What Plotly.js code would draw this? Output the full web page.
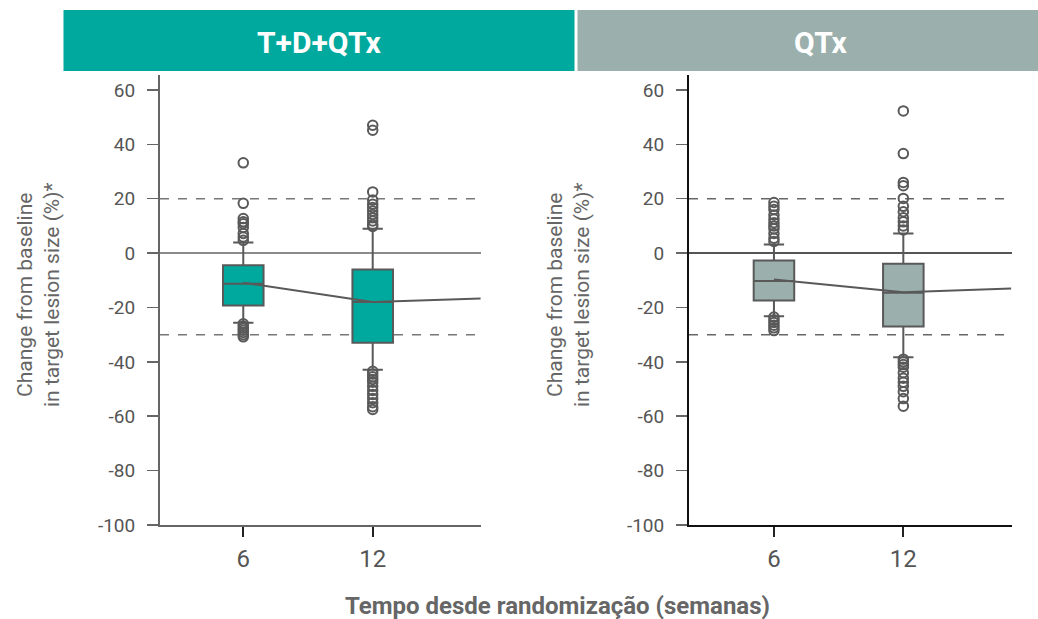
<!DOCTYPE html>
<html>
<head>
<meta charset="utf-8">
<script src="https://cdn.plot.ly/plotly-3.0.1.min.js"></script>
<style>html,body{margin:0;padding:0;background:#fff}#chart{width:1038px;height:619px}</style>
</head>
<body>
<div id="chart"></div>
<script>
// ---------- data ----------
const weeks = [6, 12];
const panelNames = ["T+D+QTx", "QTx"];

// T+D+QTx box statistics (week 6, week 12)
const tdq_q1 = [-19.3, -33.0];
const tdq_median = [-11.3, -18.0];
const tdq_q3 = [-4.5, -6.0];
const tdq_lowerfence = [-25.6, -42.9];
const tdq_upperfence = [3.9, 9.0];
const tdq_out_w6 = [33.2, 18.3, 12.7, 11.5, 10.8, 9.4, 7.2, 5.9, 4.7, -26, -26.8, -27.6, -28.4, -29.2, -30.0, -30.8];
const tdq_out_w12 = [47.0, 45.2, 22.5, 19.5, 18.0, 16.8, 15.5, 14.2, 13.0, 11.8, 10.5, 9.8, -43.5, -44.5, -45.5, -46.5, -47.5, -49, -50.5, -52, -53.5, -55, -56.5, -57.5];
const tdq_trend_x = [6, 12, 17];
const tdq_trend_y = [-10.9, -18.0, -16.7];

// QTx box statistics (week 6, week 12)
const qtx_q1 = [-17.4, -27.0];
const qtx_median = [-10.3, -14.6];
const qtx_q3 = [-2.7, -3.9];
const qtx_lowerfence = [-23.2, -38.3];
const qtx_upperfence = [3.2, 7.2];
const qtx_out_w6 = [18.6, 17.2, 16.0, 14.0, 12.5, 11.2, 10.0, 9.0, 7.2, 5.5, 4.3, -23.5, -24.5, -25.5, -26.5, -27.5, -28.5];
const qtx_out_w12 = [52.3, 36.6, 26.0, 24.8, 20.1, 17.2, 15.2, 13.0, 11.5, 10.0, 8.5, -39.0, -40.0, -41.0, -42.0, -44.0, -46.0, -47.5, -49.0, -51.0, -53.5, -56.3];
const qtx_trend_x = [6, 12, 17];
const qtx_trend_y = [-9.7, -14.4, -13.0];

// reference lines
const refZero = 0;
const refUpper = 20;
const refLower = -30;

const yTicks = [60, 40, 20, 0, -20, -40, -60, -80, -100];
const yTickText = ["60", "40", "20", "0", "-20", "-40", "-60", "-80", "-100"];
const xTickText = ["6", "12"];
const yTitle = "Change from baseline<br>in target lesion size (%)*";
const xTitle = "Tempo desde randomização (semanas)";

// ---------- styling ----------
const TEAL = "#00A99D";
const GREY = "#9BAFAC";
const LINE = "#595959";
const FONT = "Roboto, 'Liberation Sans', sans-serif";

function boxTrace(q1, med, q3, lf, uf, color, xa, ya) {
  return {
    type: "box", x: weeks, q1: q1, median: med, q3: q3,
    lowerfence: lf, upperfence: uf,
    width: 1.88, fillcolor: color, whiskerwidth: 0.5,
    line: {color: LINE, width: 2}, boxpoints: false,
    xaxis: xa, yaxis: ya, hoverinfo: "skip", showlegend: false
  };
}
function outTrace(ow6, ow12, xa, ya) {
  const xs = ow6.map(() => weeks[0]).concat(ow12.map(() => weeks[1]));
  return {
    type: "scatter", mode: "markers", x: xs, y: ow6.concat(ow12),
    marker: {symbol: "circle-open", size: 9.5, color: LINE, line: {width: 2, color: LINE}},
    xaxis: xa, yaxis: ya, showlegend: false, hoverinfo: "skip", cliponaxis: false
  };
}
function trendTrace(x, y, xa, ya) {
  return {
    type: "scatter", mode: "lines", x: x, y: y,
    line: {color: LINE, width: 2},
    xaxis: xa, yaxis: ya, showlegend: false, hoverinfo: "skip"
  };
}

const data = [
  boxTrace(tdq_q1, tdq_median, tdq_q3, tdq_lowerfence, tdq_upperfence, TEAL, "x", "y"),
  trendTrace(tdq_trend_x, tdq_trend_y, "x", "y"),
  outTrace(tdq_out_w6, tdq_out_w12, "x", "y"),
  boxTrace(qtx_q1, qtx_median, qtx_q3, qtx_lowerfence, qtx_upperfence, GREY, "x2", "y2"),
  trendTrace(qtx_trend_x, qtx_trend_y, "x2", "y2"),
  outTrace(qtx_out_w6, qtx_out_w12, "x2", "y2")
];

const W = 1038, H = 619;
const yDomain = [(H - 525) / H, (H - 75) / H];
const yRange = [-100, 65.5];

function xAxis(domain, range, lineColor) {
  return {
    domain: domain, range: range, tickvals: weeks, ticktext: xTickText,
    ticks: "outside", ticklen: 10, tickwidth: 2, tickcolor: "#222",
    showline: true, linecolor: lineColor, linewidth: 2,
    showgrid: false, zeroline: false, ticklabelstandoff: 1,
    tickfont: {family: FONT, size: 24, color: "#555"}, fixedrange: true
  };
}
function yAxis(anchor, lineColor) {
  return {
    domain: yDomain, range: yRange, anchor: anchor, tickvals: yTicks, ticktext: yTickText,
    ticks: "outside", ticklen: 11, tickwidth: 1.5, tickcolor: "#666",
    showline: true, linecolor: lineColor, linewidth: 2,
    showgrid: false, zeroline: false, ticklabelstandoff: 8,
    tickfont: {family: FONT, size: 19, color: "#555"}, fixedrange: true
  };
}

function hline(xref, yref, y, color, width, dash) {
  return {type: "line", xref: xref + " domain", yref: yref, x0: 0, x1: 1, y0: y, y1: y,
          line: {color: color, width: width, dash: dash}, layer: "below"};
}
function ann(text, x, y, size, color, angle) {
  return {text: text, xref: "paper", yref: "paper", x: x / W, y: 1 - y / H,
          xanchor: "center", yanchor: "middle", textangle: angle || 0,
          showarrow: false, font: {family: FONT, size: size, color: color}};
}

const layout = {
  width: W, height: H,
  margin: {l: 0, r: 0, t: 0, b: 0},
  paper_bgcolor: "#fff", plot_bgcolor: "#fff",
  font: {family: FONT, color: "#555"},
  showlegend: false,
  xaxis: xAxis([160 / W, 481 / W], [2.14, 17.02], "#666"),
  yaxis: yAxis("x", "#666"),
  xaxis2: Object.assign(xAxis([689 / W, 1012 / W], [2.06, 17.04], "#111"), {anchor: "y2"}),
  yaxis2: yAxis("x2", "#111"),
  shapes: [
    {type: "rect", xref: "paper", yref: "paper", x0: 63.5 / W, x1: 574.5 / W, y0: 1 - 71 / H, y1: 1 - 10 / H,
     fillcolor: TEAL, line: {width: 0}},
    {type: "rect", xref: "paper", yref: "paper", x0: 577.5 / W, x1: 1, y0: 1 - 71 / H, y1: 1 - 10 / H,
     fillcolor: GREY, line: {width: 0}},
    hline("x", "y", refZero, "#8a8a8a", 2, "solid"),
    hline("x", "y", refUpper, "#777", 1.5, "dash"),
    hline("x", "y", refLower, "#777", 1.5, "dash"),
    hline("x2", "y2", refZero, "#555", 2, "solid"),
    hline("x2", "y2", refUpper, "#666", 1.5, "dash"),
    hline("x2", "y2", refLower, "#666", 1.5, "dash")
  ],
  annotations: [
    ann("<b>" + panelNames[0] + "</b>", 319, 42, 30, "#fff"),
    ann("<b>" + panelNames[1] + "</b>", 821, 42, 30, "#fff"),
    ann(yTitle, 38, 295, 21, "#666", -90),
    ann(yTitle, 568, 295, 21, "#666", -90),
    ann("<b>" + xTitle + "</b>", 557, 606, 24, "#666")
  ]
};

Plotly.newPlot("chart", data, layout, {displayModeBar: false, staticPlot: true});
</script>
</body>
</html>
